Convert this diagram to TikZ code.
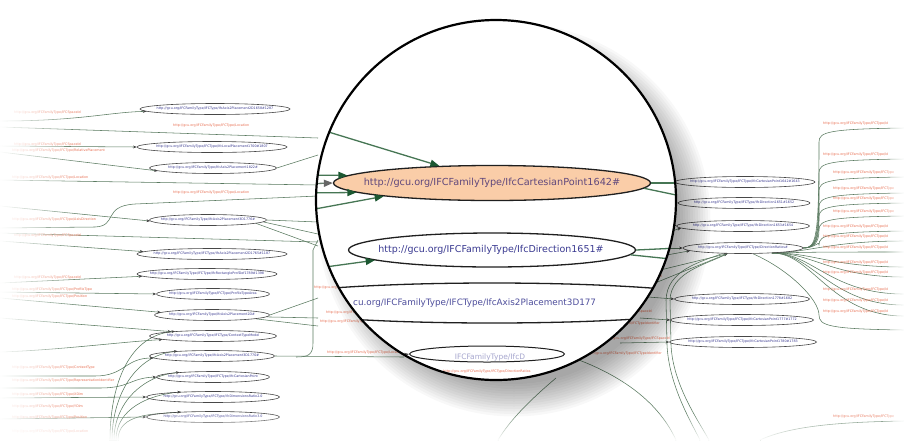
\documentclass[tikz,border=0pt]{standalone}
\usepackage{fontspec}
\setmainfont{DejaVu Sans}
\usetikzlibrary{shapes.geometric,arrows.meta,fadings}
\definecolor{edgec}{RGB}{90,122,96}
\definecolor{lab}{RGB}{232,108,78}
\definecolor{ntext}{RGB}{58,58,145}
\definecolor{peach}{RGB}{250,205,168}
\definecolor{lensline}{RGB}{70,118,84}
\definecolor{lenshead}{RGB}{28,88,50}
\definecolor{otext}{RGB}{96,72,124}
\tikzfading[name=fadeleft, left color=transparent!0, right color=transparent!100]
\tikzfading[name=faderight, left color=transparent!100, right color=transparent!0]
\tikzfading[name=fadebottom, top color=transparent!100, bottom color=transparent!0]
\pgfdeclarelayer{edges}
\pgfsetlayers{edges,main}
\tikzset{
  sn/.style={ellipse, draw=black!72, line width=0.6pt, inner sep=0pt, minimum height=11pt},
  st/.style={text=ntext, font=\fontsize{3.3}{4}\selectfont, inner sep=0pt},
  lb/.style={text=lab, font=\fontsize{3.3}{4}\selectfont, inner sep=0pt},
  ed/.style={draw=edgec, line width=0.55pt},
  ar/.style={ed, -{Stealth[length=3.6pt,width=2.8pt,color=black!75]}},
  bigell/.style={ellipse, draw=black!88, line width=1.3pt, inner sep=0pt},
  bigtxt/.style={font=\fontsize{9.7}{11}\selectfont, inner sep=0pt},
  le/.style={draw=lensline, line width=1.3pt},
  la/.style={le, -{Triangle[length=9pt,width=7pt,color=lenshead]}},
}
\newcommand\smallnode[5]{\node[sn,minimum width=#4pt] (#1) at (#2,#3) {}; \node[st] (#1t) at (#1) {#5};}
\begin{document}
\begin{tikzpicture}[x=1pt,y=-1pt]
\useasboundingbox (0,0) rectangle (904,440);
\clip (0,0) rectangle (904,440);
\begin{pgfonlayer}{edges}
\fill[white] (0,0) rectangle (904,440);
\end{pgfonlayer}

% ---------- small nodes, left column
\smallnode{E1}{215}{109}{150}{http://gcu.org/IFCFamilyType/IFCType/IfcAxis2Placement2D1658\#1287}
\smallnode{E2}{212}{147}{150}{http://gcu.org/IFCFamilyType/IFCType/IfcLocalPlacement1700\#1807}
\smallnode{E3}{213}{168}{127}{http://gcu.org/IFCFamilyType/IfcAxis2Placement1822\#}
\smallnode{E4}{208}{220}{117}{http://gcu.org/IFCFamilyType/IfcAxis2Placement3D1776\#}
\smallnode{E5}{212}{254}{150}{http://gcu.org/IFCFamilyType/IFCType/IfcAxis2Placement2D1765\#1187}
\smallnode{E6}{207}{274}{140}{http://gcu.org/IFCFamilyType/IFCType/IfcRectangleProfDef1789\#1398}
\smallnode{E7}{213}{294}{113}{http://gcu.org/IFCFamilyType/IFCType/ProfileTypeArea}
\smallnode{E8}{212}{315}{115}{http://gcu.org/IFCFamilyType/IfcAxis2Placement2D\#}
\smallnode{E9}{213}{336}{127}{http://gcu.org/IFCFamilyType/IFCType/ContextTypeModel}
\smallnode{E10}{212}{356}{125}{http://gcu.org/IFCFamilyType/IfcAxis2Placement3D1770\#}
\smallnode{E11}{213}{377}{113}{http://gcu.org/IFCFamilyType/IFCType/IfcCartesianPoint}
\smallnode{E12}{213}{397}{133}{http://gcu.org/IFCFamilyType/IFCType/IfcDimensionsRatio2.0}
\smallnode{E13}{213}{417}{133}{http://gcu.org/IFCFamilyType/IFCType/IfcDimensionsRatio3.0}
% ---------- small nodes, right column
\smallnode{R1}{745}{182}{140}{http://gcu.org/IFCFamilyType/IFCType/IfcCartesianPoint1642\#1643}
\smallnode{R2}{744}{203}{132}{http://gcu.org/IFCFamilyType/IFCType/IfcDirection1651\#1652}
\smallnode{R3}{743}{226}{133}{http://gcu.org/IFCFamilyType/IFCType/IfcDirection1653\#1654}
\smallnode{R4}{743}{248}{120}{http://gcu.org/IFCFamilyType/IFCType/DirectionRatios\#}
\smallnode{R5}{742}{299}{135}{http://gcu.org/IFCFamilyType/IFCType/IfcDirection1778\#1682}
\smallnode{R6}{742}{320}{143}{http://gcu.org/IFCFamilyType/IFCType/IfcCartesianPoint1777\#1772}
\smallnode{R7}{743}{342}{147}{http://gcu.org/IFCFamilyType/IFCType/IfcCartesianPoint1780\#1783}

% ---------- edge labels, left
\node[lb,anchor=west] (la1) at (14,113) {http://gcu.org/IFCFamilyType/IFCSpaceId};
\node[lb,anchor=west] (la2) at (173,126) {http://gcu.org/IFCFamilyType/IFCType/Location};
\node[lb,anchor=west] (la3) at (14,145) {http://gcu.org/IFCFamilyType/IFCSpaceId};
\node[lb,anchor=west] (la4) at (12,151) {http://gcu.org/IFCFamilyType/IFCType/RelativePlacement};
\node[lb,anchor=west] (la5) at (12,178) {http://gcu.org/IFCFamilyType/IFCType/Location};
\node[lb,anchor=west] (la6) at (173,193) {http://gcu.org/IFCFamilyType/IFCType/Location};
\node[lb,anchor=west] (la7) at (12,220) {http://gcu.org/IFCFamilyType/IFCType/AxisDirection};
\node[lb,anchor=west] (la8) at (14,236) {http://gcu.org/IFCFamilyType/IFCSpaceId};
\node[lb,anchor=west] (la9) at (14,278) {http://gcu.org/IFCFamilyType/IFCSpaceId};
\node[lb,anchor=west] (la10) at (12,290) {http://gcu.org/IFCFamilyType/IFCType/ProfileType};
\node[lb,anchor=west] (la11) at (12,297) {http://gcu.org/IFCFamilyType/IFCType/Position};
\node[lb,anchor=west] (la12) at (12,368) {http://gcu.org/IFCFamilyType/IFCType/ContextType};
\node[lb,anchor=west] (la13) at (12,381) {http://gcu.org/IFCFamilyType/IFCType/RepresentationIdentifier};
\node[lb,anchor=west] (la14) at (12,395) {http://gcu.org/IFCFamilyType/IFCType/XDim};
\node[lb,anchor=west] (la15) at (12,407) {http://gcu.org/IFCFamilyType/IFCType/YDim};
\node[lb,anchor=west] (la16) at (12,418) {http://gcu.org/IFCFamilyType/IFCType/Position};
\node[lb,anchor=west] (la17) at (12,432) {http://gcu.org/IFCFamilyType/IFCType/Location};
\node[lb,anchor=west] (la18) at (314,288) {http://gcu.org/IFCFamilyType};
\node[lb,anchor=west] (la19) at (326,313) {http://gcu.org/IFCFamilyType/IFCType};
\node[lb,anchor=west] (la20) at (320,322) {http://gcu.org/IFCFamilyType/IFCType};
\node[lb,anchor=west] (la21) at (327,353) {http://gcu.org/IFCFamilyType/IFCType/Location};
% ---------- edge labels, right
\node[lb,anchor=east] (lr1) at (662,277) {http://gcu.org/IFCFamilyType/IFCType/Id};
\node[lb,anchor=east] (lr2) at (652,312) {http://gcu.org/IFCFamilyType/IFCSpaceId};
\node[lb,anchor=east] (lr3) at (660,324) {http://gcu.org/IFCFamilyType/IFCTypeIdentifier};
\node[lb,anchor=east] (lr4) at (670,339) {http://gcu.org/IFCFamilyType/IFCSpaceId};
\node[lb,anchor=east] (lr5) at (662,354) {http://gcu.org/IFCFamilyType/IFCTypeIdentifier};
\foreach \k/\yy in {1/124,2/155,7/227,8/237,9/248,10/263,11/273,12/290,13/301,14/312}
  {\node[lb,anchor=west] (rl\k) at (823,\yy) {http://gcu.org/IFCFamilyType/IFCType/Id};}
\foreach \k/\yy in {3/173,4/189,5/199,6/212,15/417}
  {\node[lb,anchor=west] (rl\k) at (833,\yy) {http://gcu.org/IFCFamilyType/IFCType};}

% ---------- edges
\begin{pgfonlayer}{edges}
\coordinate (c01) at (0,121); \draw[ar] (c01) .. controls (80,121) and (110,112) .. (E1.182);
\coordinate (c02) at (0,127); \coordinate (k02) at (318,138); \draw[ed] (c02) -- (k02);
\coordinate (c03) at (0,146); \draw[ar] (c03) -- (E2.west);
\coordinate (c04) at (0,152); \draw[ar] (c04) -- (E3.183);
\coordinate (k03) at (318,155); \draw[ed] (E3.east) -- (k03);
\coordinate (c05) at (0,180); \coordinate (k04) at (318,185); \draw[ed] (c05) -- (k04);
\coordinate (c06) at (0,228); \coordinate (k05) at (318,196);
\draw[ed] (c06) -- (95,227) .. controls (118,226) and (102,206) .. (135,204) -- (k05);
\coordinate (c07) at (0,206); \draw[ar] (c07) -- (E4.181);
\coordinate (k06) at (318,222); \draw[ed] (E4.east) -- (k06);
\coordinate (k07) at (318,234); \draw[ed] (E4.358) -- (k07);
\coordinate (k08) at (318,246); \draw[ed] (E4.356) -- (k08);
\coordinate (c08) at (0,233); \coordinate (k09) at (318,242); \draw[ed] (c08) -- (k09);
\coordinate (c09) at (0,241); \draw[ar] (c09) -- (E5.178);
\coordinate (c10) at (0,283); \draw[ar] (c10) -- (E6.182);
\coordinate (c11) at (0,292); \draw[ar] (c11) -- (E7.west);
\coordinate (c12) at (0,298); \draw[ar] (c12) -- (E8.177);
\coordinate (k10) at (318,298); \draw[ed] (E8.east) -- (k10);
\coordinate (k11) at (318,318); \draw[ed] (E8.358) -- (k11);
\coordinate (k12) at (318,326); \draw[ed] (E8.355) -- (k12);
\coordinate (c13) at (0,318); \draw[ar] (c13) -- (E9.174);
\coordinate (c14) at (0,352); \draw[ar] (c14) .. controls (60,350) and (120,342) .. (E9.184);
\foreach \n/\bx/\a in {E9/110/173,E10/112/172,E11/114/172,E12/116/171,E13/118/171}{
  \coordinate (bot\n) at (\bx,440);
  \draw[ar] (bot\n) to[out=90,in=185] (\n.\a);
}
\coordinate (c15) at (0,376); \draw[ar] (c15) -- (95,376) .. controls (125,376) and (125,358) .. (E10.182);
\coordinate (c16) at (0,388); \draw[ar] (c16) -- (100,388) .. controls (130,388) and (130,378) .. (E11.west);
\coordinate (c17) at (0,398); \draw[ar] (c17) -- (E12.west);
\coordinate (c18) at (0,419); \draw[ar] (c18) -- (E13.west);
\coordinate (d4w) at (404,357); \draw[ed] (E10.east) -- (d4w);
\coordinate (k13) at (318,240); \coordinate (k14) at (296,357);
\draw[ed] (k13) -- (313,250) -- (313,343) .. controls (313,355) and (308,357) .. (k14);
% right side
\coordinate (r01) at (655,183); \draw[ed] (r01) -- (R1.west);
\coordinate (r02) at (655,194); \draw[ar] (r02) -- (R2.west);
\coordinate (r03) at (655,212); \draw[ar] (r03) -- (R3.west);
\coordinate (r04) at (655,236); \draw[ar] (r04) -- (R3.182);
\coordinate (r05) at (655,248); \draw[ar] (r05) -- (R4.west);
\coordinate (r06) at (650,258); \draw[ar] (r06) -- (R4.183);
\coordinate (r07) at (652,272); \draw[ar] (r07) -- (R4.200);
\coordinate (r08) at (650,285); \draw[ar] (r08) -- (R4.200);
\coordinate (r09) at (648,297); \draw[ar] (r09) -- (R5.west);
\coordinate (r10) at (640,318); \draw[ar] (r10) -- (R6.west);
\coordinate (r11) at (620,343); \draw[ar] (r11) -- (R7.west);
\coordinate (v1) at (700,440);
\draw[ed] (R4.195) .. controls (700,262) and (667,270) .. (666,300) -- (667,345) .. controls (669,385) and (690,420) .. (v1);
\coordinate (v2) at (709,440);
\draw[ed] (R4.200) .. controls (705,265) and (671,272) .. (670,300) -- (671,345) .. controls (673,385) and (698,420) .. (v2);
\coordinate (lb1) at (565,355); \coordinate (lb1e) at (676,440);
\draw[ed] (lb1) .. controls (625,375) and (660,405) .. (lb1e);
\coordinate (lb2) at (556,378); \coordinate (lb2e) at (498,440);
\draw[ed] (lb2) .. controls (530,400) and (510,420) .. (lb2e);
\foreach \yy in {124,155,173,189,199,212,227}{
  \coordinate (rt\yy) at (904,{\yy+4});
  \draw[ed] (R4.east) .. controls (816,248) and (819,240) .. (819,{\yy+18}) .. controls (819,{\yy+8}) and (828,{\yy+5}) .. (rt\yy);
}
\foreach \yy in {237,248,263,273,290,301,312}{
  \coordinate (rb\yy) at (904,{\yy+4});
  \draw[ed] (R4.350) .. controls (812,252) and (830,{\yy+4}) .. (rb\yy);
}
\coordinate (rb2) at (904,330);
\draw[ed] (R4.330) .. controls (790,270) and (819,300) .. (819,315) .. controls (819,326) and (830,329) .. (rb2);
\coordinate (br1) at (760,440); \coordinate (br2) at (904,421);
\draw[ed] (br1) .. controls (790,426) and (840,422) .. (br2);
\end{pgfonlayer}

% ---------- lens shadow
\foreach \r in {164,166.5,...,198} \fill[black,opacity=0.026] (514,220) circle (\r);

% ---------- lens content
\begin{scope}
\clip (496,200) circle (180);
\fill[white] (300,0) rectangle (700,400);
\node[bigell, fill=peach, minimum width=317pt, minimum height=35pt] (CP) at (492,183) {};
\node[bigtxt, text=otext] (CPt) at (492,183) {http://gcu.org/IFCFamilyType/IfcCartesianPoint1642\#};
\node[bigell, fill=white, minimum width=287pt, minimum height=34pt] (DIR) at (492,250) {};
\node[bigtxt, font=\fontsize{9.5}{11}\selectfont, text=ntext] (DIRt) at (491,250) {http://gcu.org/IFCFamilyType/IfcDirection1651\#};
\node[bigell, minimum width=480pt, minimum height=40pt] (AX) at (492,303) {};
\node[bigtxt, font=\fontsize{8.8}{11}\selectfont, text=ntext!90, anchor=west] (AXt) at (353,303) {cu.org/IFCFamilyType/IFCType/IfcAxis2Placement3D177};
\node[bigell, line width=1pt, minimum width=155pt, minimum height=16pt] (D4) at (487,354) {};
\node[font=\fontsize{7.5}{9}\selectfont, text=ntext!45, inner sep=0pt] (D4t) at (490,357) {IFCFamilyType/IfcD};
\node[lb] (ldr) at (487,372) {http://gcu.org/IFCFamilyType/IFCType/DirectionRatios};
\coordinate (i1) at (322,130); \draw[la] (i1) -- (CP.162);
\coordinate (i2) at (300,175); \draw[la] (i2) -- (CP.177);
\coordinate (i3) at (300,184); \draw[le, draw=gray!60!lensline, -{Triangle[length=9pt,width=7pt,color=gray!80!black]}] (i3) -- (CP.west);
\coordinate (i4) at (300,193); \draw[la] (i4) -- (CP.184);
\coordinate (i5) at (315,209); \draw[la] (i5) -- (CP.187);
\coordinate (i6) at (318,268); \draw[la] (i6) -- (DIR.185);
\coordinate (i7) at (700,183); \draw[le] (CP.east) -- (i7);
\coordinate (i8) at (700,200); \draw[le] (CP.358) -- (i8);
\coordinate (i9) at (700,247); \draw[le] (DIR.east) -- (i9);
\coordinate (i10) at (700,262); \draw[le] (DIR.358) -- (i10);
\coordinate (d4in) at (390,357);
\draw[ed, line width=0.8pt, -{Stealth[length=5pt,width=4pt,color=black!70]}] (d4in) -- (D4.west);
\end{scope}
\draw[line width=2.2pt] (496,200) circle (180);

% ---------- edge fades
\fill[white, path fading=fadeleft] (0,0) rectangle (80,440);
\fill[white, path fading=fadebottom] (0,412) rectangle (904,440);
\fill[white, path fading=faderight] (884,0) rectangle (904,440);
\end{tikzpicture}
\end{document}
